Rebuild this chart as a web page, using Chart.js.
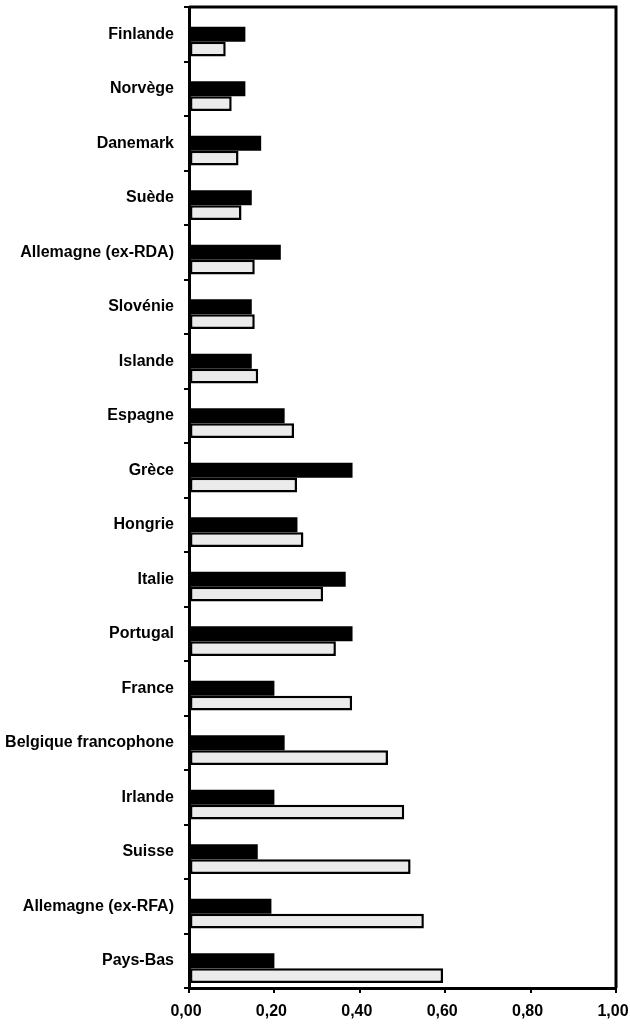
<!DOCTYPE html>
<html>
<head>
<meta charset="utf-8">
<script src="https://cdn.jsdelivr.net/npm/chart.js@4/dist/chart.umd.min.js"></script>
<style>
  html, body { margin: 0; padding: 0; background: #fff; overflow: hidden; }
  #wrap { width: 630px; height: 1025px; }
</style>
</head>
<body>
<div id="wrap"><canvas id="chart"></canvas></div>
<script>
const countries = [
  'Finlande', 'Norvège', 'Danemark', 'Suède', 'Allemagne (ex-RDA)', 'Slovénie',
  'Islande', 'Espagne', 'Grèce', 'Hongrie', 'Italie', 'Portugal', 'France',
  'Belgique francophone', 'Irlande', 'Suisse', 'Allemagne (ex-RFA)', 'Pays-Bas'
];
const darkValues = [
  0.132, 0.132, 0.169, 0.147, 0.215, 0.147, 0.147, 0.224, 0.383,
  0.254, 0.367, 0.383, 0.200, 0.224, 0.200, 0.161, 0.193, 0.200
];
const lightValues = [
  0.086, 0.100, 0.116, 0.123, 0.154, 0.154, 0.162, 0.246, 0.253,
  0.268, 0.314, 0.344, 0.382, 0.466, 0.504, 0.519, 0.550, 0.595
];
const xTicks = [0, 0.2, 0.4, 0.6, 0.8, 1.0];

// top and right frame lines
const frame = {
  id: 'frame',
  afterDraw(chart) {
    const { ctx, chartArea: a } = chart;
    ctx.save();
    ctx.strokeStyle = '#000';
    ctx.lineWidth = 3;
    ctx.beginPath();
    ctx.moveTo(a.left, a.top);
    ctx.lineTo(a.right, a.top);
    ctx.lineTo(a.right, a.bottom);
    ctx.stroke();
    ctx.restore();
  }
};

const font = { family: '"Liberation Sans", Arial, sans-serif', size: 16, weight: 'bold' };

new Chart(document.getElementById('chart'), {
  type: 'bar',
  data: {
    labels: countries,
    datasets: [
      // empty slot so the pair sits like the original
      { data: countries.map(() => null), backgroundColor: 'rgba(0,0,0,0)' },
      { data: darkValues, backgroundColor: '#000', borderWidth: 0 },
      { data: lightValues, backgroundColor: '#ebebeb', borderColor: '#000', borderWidth: 2.5, borderSkipped: false }
    ]
  },
  options: {
    indexAxis: 'y',
    responsive: true,
    maintainAspectRatio: false,
    animation: false,
    categoryPercentage: 0.82,
    barPercentage: 1.0,
    layout: { padding: { top: 7, left: 4, right: 14, bottom: 4 } },
    plugins: { legend: { display: false }, tooltip: { enabled: false } },
    scales: {
      x: {
        min: 0,
        max: 1,
        afterBuildTicks: (axis) => { axis.ticks = xTicks.map(v => ({ value: v })); },
        afterFit: (axis) => { axis.height = 33; axis.paddingLeft = 0; axis.paddingRight = 0; },
        ticks: {
          color: '#000',
          font: font,
          padding: 9,
          labelOffset: -3,
          callback: (v) => Number(v).toFixed(2).replace('.', ',')
        },
        grid: { drawOnChartArea: false, color: '#000', lineWidth: 2, tickLength: 5 },
        border: { color: '#000', width: 3 }
      },
      y: {
        afterFit: (axis) => { axis.width = 185; axis.paddingTop = 0; axis.paddingBottom = 0; },
        ticks: { color: '#000', font: font, padding: 10 },
        grid: { offset: true, drawOnChartArea: false, color: '#000', lineWidth: 2, tickLength: 5 },
        border: { color: '#000', width: 3 }
      }
    }
  },
  plugins: [frame]
});
</script>
</body>
</html>
